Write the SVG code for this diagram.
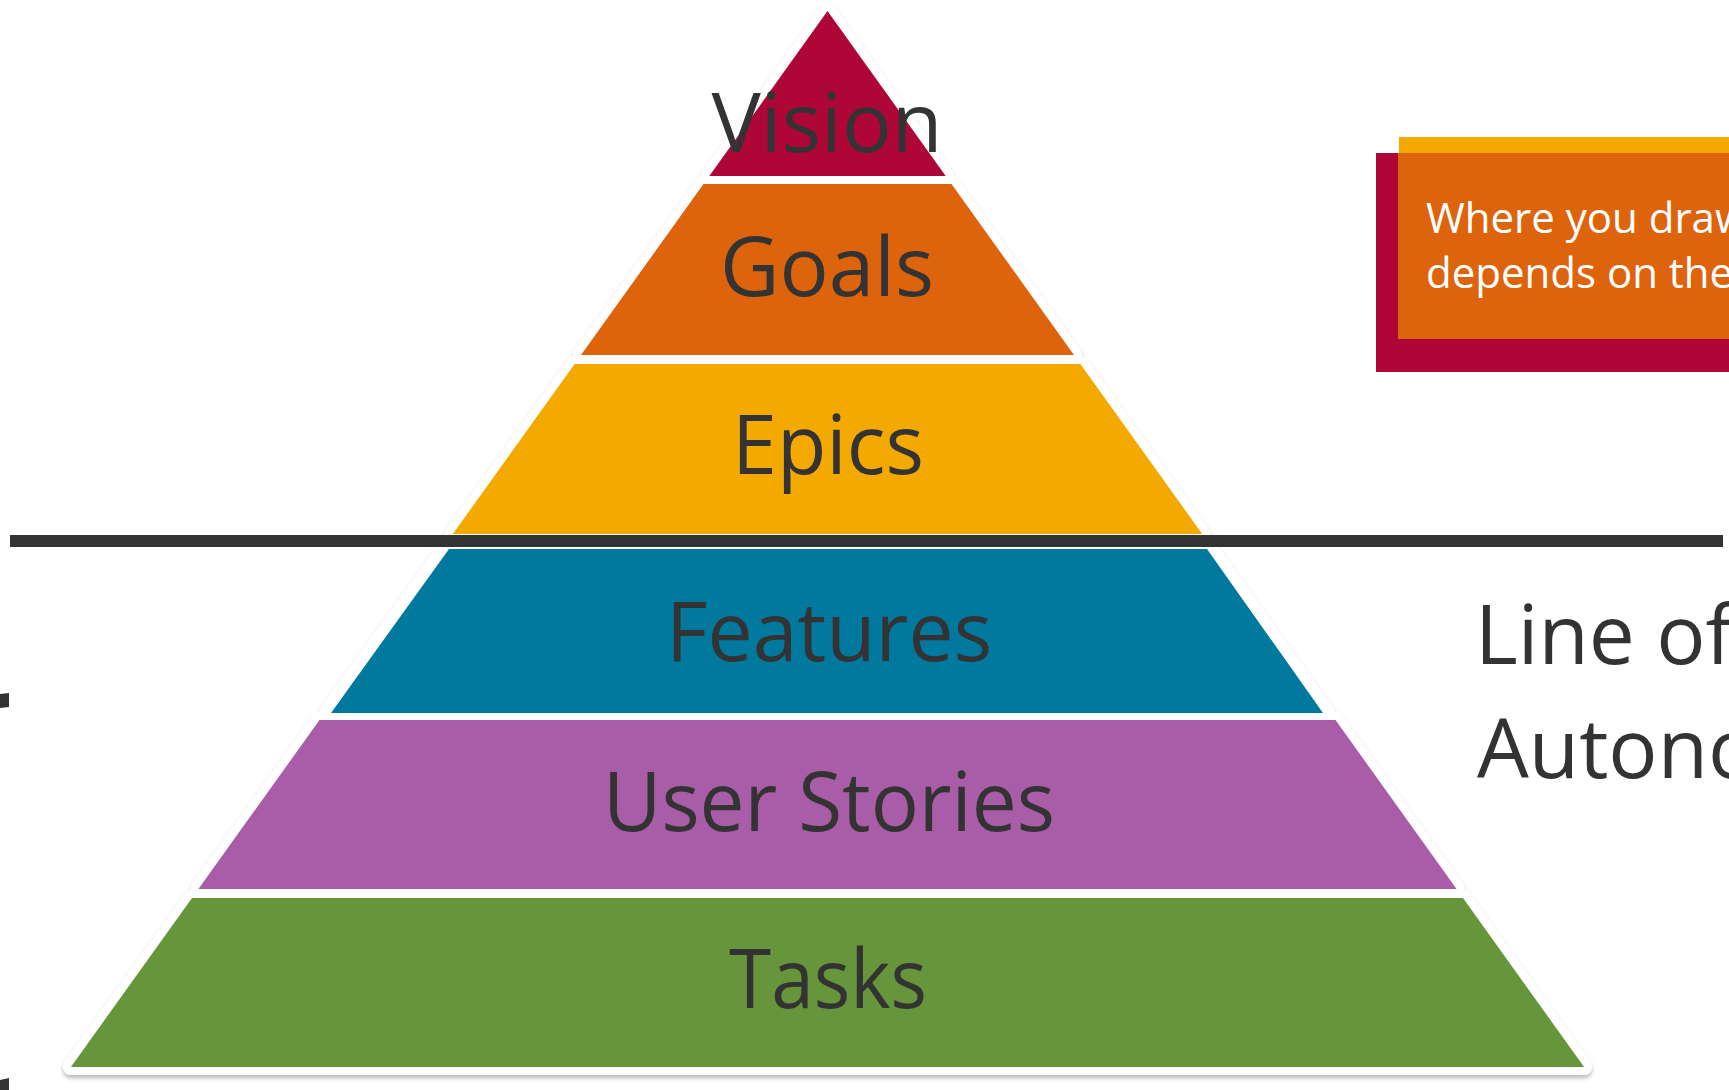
<svg xmlns="http://www.w3.org/2000/svg" width="1729" height="1090" viewBox="0 0 1729 1090">
  <defs>
    <filter id="soft-shadow" x="-5%" y="-5%" width="110%" height="110%">
      <feDropShadow dx="0" dy="3" stdDeviation="2" flood-color="#000" flood-opacity="0.28"/>
    </filter>
  </defs>
  <style>
    .backdrop { fill: #fff; stroke: #fff; stroke-width: 16; stroke-linejoin: round; }
    .label { font-family: "Open Sans", "Noto Sans", "Liberation Sans", sans-serif; font-size: 83px; fill: #333333; text-anchor: middle; }
    .side { font-family: "Open Sans", "Noto Sans", "Liberation Sans", sans-serif; font-size: 82px; fill: #333333; }
    .note { font-family: "Open Sans", "Noto Sans", "Liberation Sans", sans-serif; font-size: 42px; fill: #ffffff; }
    .vision { fill: #AF0638; }
    .goals { fill: #DD640C; }
    .epics { fill: #F4A900; }
    .features { fill: #01799F; }
    .stories { fill: #A95DA8; }
    .tasks { fill: #67953B; }
  </style>

  <rect width="1729" height="1090" fill="#ffffff"/>

  <!-- white outline with shadow behind every pyramid layer -->
  <g id="pyramid-backdrop" filter="url(#soft-shadow)">
    <polygon class="backdrop" points="827.5,11 945.7,176 709.3,176"/>
    <polygon class="backdrop" points="703.5,184 951.5,184 1074,355 581,355"/>
    <polygon class="backdrop" points="574.6,364 1080.4,364 1202.2,534 452.8,534"/>
    <polygon class="backdrop" points="445,549 1210,549 1327,713 327,713"/>
    <polygon class="backdrop" points="319.5,720 1335.5,720 1456.6,889 198.4,889"/>
    <polygon class="backdrop" points="192,898 1463,898 1584.1,1067 70.9,1067"/>
  </g>

  <g id="node-vision">
    <polygon class="vision" points="827.5,11 945.7,176 709.3,176"/>
  </g>
  <g id="node-goals">
    <polygon class="goals" points="703.5,184 951.5,184 1074,355 581,355"/>
    <text class="label" x="827" y="295.5" textLength="214" lengthAdjust="spacingAndGlyphs">Goals</text>
  </g>
  <g id="node-epics">
    <polygon class="epics" points="574.6,364 1080.4,364 1202.2,534 452.8,534"/>
    <text class="label" x="828" y="474" textLength="192" lengthAdjust="spacingAndGlyphs">Epics</text>
  </g>
  <g id="node-features">
    <polygon class="features" points="449,549 1207,549 1323,713 331,713"/>
    <text class="label" x="829" y="661" textLength="326" lengthAdjust="spacingAndGlyphs">Features</text>
  </g>
  <g id="node-user-stories">
    <polygon class="stories" points="319.5,720 1335.5,720 1456.6,889 198.4,889"/>
    <text class="label" x="829" y="830.5" textLength="452" lengthAdjust="spacingAndGlyphs">User Stories</text>
  </g>
  <g id="node-tasks">
    <polygon class="tasks" points="192,898 1463,898 1584.1,1067 70.9,1067"/>
    <text class="label" x="828" y="1008" textLength="198" lengthAdjust="spacingAndGlyphs">Tasks</text>
  </g>
  <!-- the apex label overhangs its triangle, so it is painted after the layers -->
  <text class="label" x="827" y="152" textLength="231" lengthAdjust="spacingAndGlyphs">Vision</text>

  <!-- divider between the upper and lower layers -->
  <g id="connectors">
    <rect x="10" y="535" width="1713" height="12" fill="#333333"/>
  </g>

  <g id="line-label">
    <text class="side" x="1475" y="664">Line of</text>
    <text class="side" x="1477" y="778">Autono</text>
  </g>

  <g id="note">
    <rect x="1376" y="153" width="353" height="219" fill="#AF0638"/>
    <rect x="1399" y="137" width="330" height="16" fill="#F4A800"/>
    <rect x="1398" y="153" width="331" height="186" fill="#DD640C"/>
    <text class="note" x="1426" y="233">Where you draw</text>
    <text class="note" x="1426" y="288">depends on the</text>
  </g>

  <!-- ends of a brace running off the left edge -->
  <g id="left-brace" fill="#333333">
    <polygon points="0,694 9,693 9,707 0,708"/>
    <polygon points="0,1080 9,1078 9,1090 0,1090"/>
  </g>
</svg>
